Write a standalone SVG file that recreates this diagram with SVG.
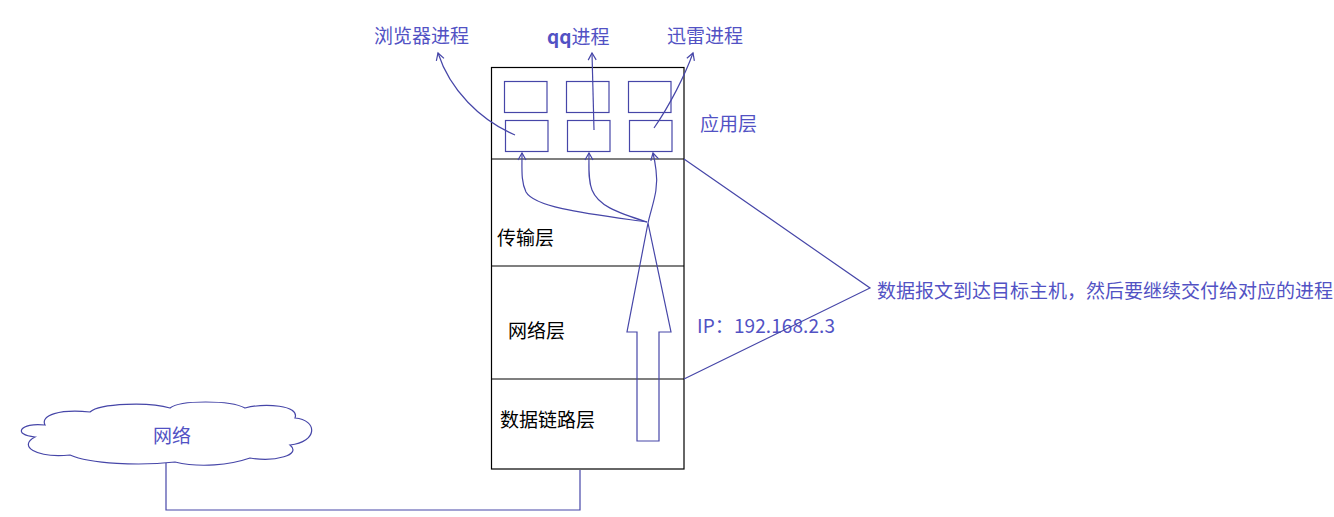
<svg xmlns="http://www.w3.org/2000/svg" width="1334" height="517" viewBox="0 0 1334 517">
<style>
.bx{fill:none;stroke:#000;stroke-width:1.2}
.bl{fill:none;stroke:#4646a8;stroke-width:1.2}
.tb{font-family:"Noto Sans CJK SC","Liberation Sans",sans-serif;font-size:19px;fill:#5252c4}
.tk{font-family:"Noto Sans CJK SC","Liberation Sans",sans-serif;font-size:19px;fill:#000}
</style>
<defs>
<marker id="ar" markerWidth="10" markerHeight="10" refX="8" refY="5" orient="auto" markerUnits="userSpaceOnUse">
<path d="M1,1 L8,5 L1,9" fill="none" stroke="#4646a8" stroke-width="1.2"/>
</marker>
</defs>
<rect width="1334" height="517" fill="#fff"/>
<g id="host">
<rect class="bx" x="491.5" y="67.5" width="192.5" height="401.5"/>
<line class="bx" x1="491.5" y1="159" x2="684" y2="159"/>
<line class="bx" x1="491.5" y1="266" x2="684" y2="266"/>
<line class="bx" x1="491.5" y1="379" x2="684" y2="379"/>
<text class="tb" x="700" y="131">应用层</text>
<text class="tk" x="497" y="245">传输层</text>
<text class="tk" x="508" y="338">网络层</text>
<text class="tk" x="500" y="427">数据链路层</text>
</g>
<g id="processes">
<rect class="bl" x="504.5" y="81.5" width="42.5" height="31"/>
<rect class="bl" x="566.5" y="81.5" width="42.5" height="31"/>
<rect class="bl" x="628.5" y="81.5" width="42.5" height="31"/>
<rect class="bl" x="505.5" y="120.5" width="42.5" height="31"/>
<rect class="bl" x="567.5" y="120.5" width="42.5" height="31"/>
<rect class="bl" x="629.5" y="120.5" width="42.5" height="31"/>
</g>
<g id="labels">
<text class="tb" x="374" y="43">浏览器进程</text>
<text class="tb" x="547" y="44"><tspan font-weight="bold">qq</tspan>进程</text>
<text class="tb" x="667" y="43">迅雷进程</text>
<text class="tb" x="697" y="333" font-size="17" textLength="138">IP：192.168.2.3</text>
<text class="tb" x="877" y="298" textLength="456">数据报文到达目标主机，然后要继续交付给对应的进程</text>
</g>
<g id="cloud">
<path class="bl" d="M45,425 C20,422 12,435 35,437 C18,446 35,458 70,455 C90,464 140,466 175,462 C200,468 230,465 250,458 C275,462 302,455 290,445 C318,442 318,420 295,418 C300,405 265,403 245,408 C230,400 180,400 170,408 C150,402 100,403 90,412 C60,409 40,415 45,425 Z"/>
<text class="tb" x="172" y="443" font-size="18" text-anchor="middle">网络</text>
</g>
<g id="connectors">
<polygon class="bl" points="637,441 659,441 659,332 671,332 648,223 627,332 637,332"/>
<path class="bl" marker-end="url(#ar)" d="M647,222 C590,214 535,208 526,192 C521,182 522,170 522,153"/>
<path class="bl" marker-end="url(#ar)" d="M647,222 C615,212 598,205 592,190 C588,180 589,168 589,153"/>
<path class="bl" marker-end="url(#ar)" d="M648,223 C652,205 659,190 656,170 C655,162 654,157 653,153"/>
<path class="bl" marker-end="url(#ar)" d="M515,135 C480,120 450,90 438,53"/>
<path class="bl" marker-end="url(#ar)" d="M594,130 L592,53"/>
<path class="bl" marker-end="url(#ar)" d="M654,128 C670,105 685,75 693,53"/>
<polyline class="bl" points="684,159 870,288 684,379"/>
<polyline class="bl" points="166,463 166,510 580,510 580,470"/>
</g>
</svg>
